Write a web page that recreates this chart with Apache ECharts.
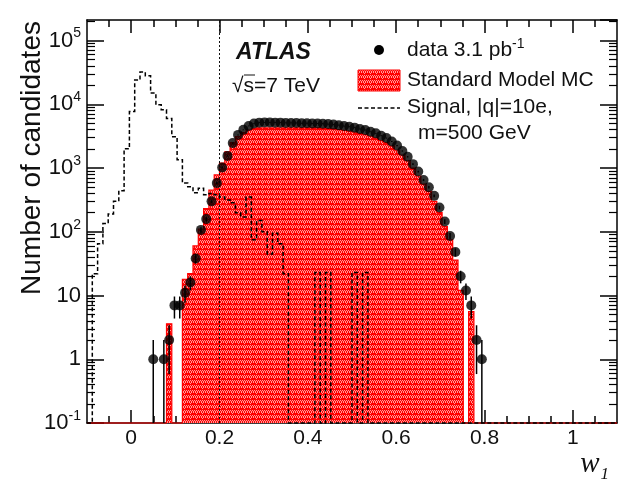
<!DOCTYPE html>
<html><head><meta charset="utf-8">
<script src="https://cdn.jsdelivr.net/npm/echarts@6/dist/echarts.min.js"></script>
<style>html,body{margin:0;padding:0;background:#fff}#c{width:625px;height:483px}</style>
</head><body><div id="c"></div>
<script>
// ---------------- data ----------------
const BIN_WIDTH = 0.012;
const X_MIN = -0.1, X_MAX = 1.1, Y_MIN = 0.1, Y_MAX = 2.1e5;

const xMajorTicks = [0, 0.2, 0.4, 0.6, 0.8, 1];
const xMinorTicks = [-0.05, 0.05, 0.1, 0.15, 0.25, 0.3, 0.35, 0.45, 0.5, 0.55, 0.65, 0.7, 0.75, 0.85, 0.9, 0.95, 1.05];
const yMinorTicks = [0.2,0.3,0.4,0.5,0.6,0.7,0.8,0.9, 2,3,4,5,6,7,8,9, 20,30,40,50,60,70,80,90,
  200,300,400,500,600,700,800,900, 2000,3000,4000,5000,6000,7000,8000,9000,
  20000,30000,40000,50000,60000,70000,80000,90000, 200000];

// data 3.1 pb^-1 (bin centres, counts)
const dataX = [0.050,0.074,0.086,0.098,0.110,0.122,0.134,0.146,0.158,0.170,0.182,0.194,0.206,0.218,0.230,0.242,0.254,0.266,0.278,0.290,
  0.302,0.314,0.326,0.338,0.350,0.362,0.374,0.386,0.398,0.410,0.422,0.434,0.446,0.458,0.470,0.482,0.494,0.506,0.518,0.530,
  0.542,0.554,0.566,0.578,0.590,0.602,0.614,0.626,0.638,0.650,0.662,0.674,0.686,0.698,0.710,0.722,0.734,0.746,0.758,0.770,0.782,0.794];
const dataY = [1,1,2,7,7,11,16,38,107,158,300,580,1020,1550,2460,3310,3970,4570,5000,5150,
  5200,5200,5150,5150,5100,5100,5100,5050,5050,5000,5000,4950,4900,4800,4700,4550,4450,4300,4100,3950,
  3700,3500,3200,2950,2600,2250,1850,1500,1150,880,650,500,366,240,145,86,48,20,12,7,2,1];

// Standard Model MC
const mcX = [0.086,0.122,0.134,0.146,0.158,0.170,0.182,0.194,0.206,0.218,0.230,0.242,0.254,0.266,0.278,0.290,
  0.302,0.314,0.326,0.338,0.350,0.362,0.374,0.386,0.398,0.410,0.422,0.434,0.446,0.458,0.470,0.482,0.494,0.506,0.518,0.530,
  0.542,0.554,0.566,0.578,0.590,0.602,0.614,0.626,0.638,0.650,0.662,0.674,0.686,0.698,0.710,0.722,0.734,0.746,0.758,0.770];
const mcY = [3.6,18,22,60,110,230,450,780,1200,1800,2500,3100,3600,3950,4150,4250,
  4250,4250,4250,4250,4250,4250,4250,4250,4250,4250,4250,4200,4150,4100,4000,3900,3800,3650,3500,3350,
  3150,2950,2700,2500,2200,1900,1600,1300,1000,750,560,430,300,200,120,75,36,12,0,5.6];

// Signal, |q|=10e, m=500 GeV
const sigX = [-0.082,-0.070,-0.058,-0.046,-0.034,-0.022,-0.010,0.002,0.014,0.026,0.038,0.050,0.062,0.074,0.086,0.098,
  0.110,0.122,0.134,0.146,0.158,0.170,0.182,0.194,0.206,0.218,0.230,0.242,0.254,0.266,0.278,0.290,0.302,0.314,0.326,0.338,0.350,
  0.422,0.446,0.506,0.530];
const sigY = [22,65,135,190,300,440,2000,7700,24000,32000,28000,15000,9800,8200,6000,3100,
  1350,580,510,410,480,380,400,380,350,316,284,198,171,350,75,150,100,45,95,65,22,
  23,23,23,23];

const CUT_X = 0.2;

// ---------------- style helpers ----------------
const FONT = "'Liberation Sans', Arial, Helvetica, sans-serif";
const TXT = '#111';

function makePattern() {
  const c = document.createElement('canvas');
  c.width = 6; c.height = 5;
  const g = c.getContext('2d');
  g.fillStyle = '#ff0000'; g.fillRect(0, 0, 6, 5);
  g.fillStyle = 'rgba(255,255,255,0.6)';
  [[0,0],[2,0],[1,1],[1,2],[4,0],[3,1],[5,1],[3,2],[5,2],[4,3]].forEach(p => g.fillRect(p[0], p[1], 1, 1));
  return { image: c, repeat: 'repeat' };
}
const pattern = makePattern();

function stepPoints(api, centers, values) {
  const pts = [];
  let prevR = X_MIN;
  pts.push(api.coord([X_MIN, Y_MIN]));
  for (let i = 0; i < centers.length; i++) {
    const l = centers[i] - BIN_WIDTH / 2, r = centers[i] + BIN_WIDTH / 2;
    const v = values[i] > Y_MIN ? values[i] : Y_MIN;
    if (l > prevR + 1e-9) { pts.push(api.coord([prevR, Y_MIN])); pts.push(api.coord([l, Y_MIN])); }
    pts.push(api.coord([l, v])); pts.push(api.coord([r, v]));
    prevR = r;
  }
  pts.push(api.coord([prevR, Y_MIN]));
  pts.push(api.coord([X_MAX, Y_MIN]));
  return pts;
}

const chart = echarts.init(document.getElementById('c'), null, { renderer: 'canvas' });

function xAxisDef(pos, major) {
  return {
    type: 'value', position: pos, min: X_MIN, max: X_MAX,
    axisLine: { show: major, onZero: false, lineStyle: { color: '#000', width: 1.5 } },
    axisTick: { show: true, inside: true, length: major ? 13 : 7, customValues: major ? xMajorTicks : xMinorTicks,
      lineStyle: { color: '#000', width: 1.5 } },
    axisLabel: (pos === 'bottom' && major) ? { show: true, customValues: xMajorTicks, fontSize: 21, fontFamily: FONT, color: TXT, margin: 5 } : { show: false },
    splitLine: { show: false },
    name: (pos === 'bottom' && major) ? '{w|w}{s|1}' : '',
    nameLocation: 'end', nameGap: -8,
    nameTextStyle: {
      align: 'right', verticalAlign: 'top', padding: [26, 0, 0, 0],
      rich: {
        w: { fontFamily: "'Liberation Serif', 'Times New Roman', serif", fontStyle: 'italic', fontSize: 29, color: TXT, verticalAlign: 'bottom', lineHeight: 30 },
        s: { fontFamily: "'Liberation Serif', 'Times New Roman', serif", fontStyle: 'italic', fontSize: 17, color: TXT, verticalAlign: 'bottom', lineHeight: 17, padding: [0, 0, -4, 1] }
      }
    }
  };
}
function yAxisDef(pos, major) {
  return {
    type: 'log', logBase: 10, position: pos, min: Y_MIN, max: Y_MAX, splitNumber: 6,
    axisLine: { show: major, onZero: false, lineStyle: { color: '#000', width: 1.5 } },
    axisTick: major ? { show: true, inside: true, length: 17, lineStyle: { color: '#000', width: 1.5 } }
                    : { show: true, inside: true, length: 8, customValues: yMinorTicks, lineStyle: { color: '#000', width: 1.2 } },
    axisLabel: (pos === 'left' && major) ? {
      show: true, margin: 6, showMaxLabel: false,
      formatter: v => {
        const lg = Math.log10(v), e = Math.round(lg);
        if (Math.abs(lg - e) > 1e-3) return '';
        if (e === 0) return '{b|1}';
        if (e === 1) return '{b|10}';
        return '{b|10}{s|' + e + '}';
      },
      rich: {
        b: { fontSize: 22, fontFamily: FONT, color: TXT, lineHeight: 22, verticalAlign: 'bottom' },
        s: { fontSize: 14, fontFamily: FONT, color: TXT, lineHeight: 14, verticalAlign: 'bottom', padding: [0, 0, 11, 0] }
      }
    } : { show: false },
    splitLine: { show: false },
    minorTick: { show: false }
  };
}

const option = {
  animation: false,
  backgroundColor: '#fff',
  grid: { left: 87, right: 8, top: 20, bottom: 60, containLabel: false },
  xAxis: [xAxisDef('bottom', true), xAxisDef('bottom', false), xAxisDef('top', true), xAxisDef('top', false)],
  yAxis: [yAxisDef('left', true), yAxisDef('left', false), yAxisDef('right', true), yAxisDef('right', false)],
  series: [
    {
      name: 'Standard Model MC', type: 'custom', xAxisIndex: 0, yAxisIndex: 0, z: 1,
      data: mcX.map((x, i) => [x, mcY[i]]),
      renderItem: (params, api) => {
        if (params.dataIndex !== 0) return null;
        const pts = stepPoints(api, mcX, mcY);
        return { type: 'group', children: [
          { type: 'polygon', shape: { points: pts }, style: { fill: pattern, stroke: null } },
          { type: 'polyline', shape: { points: pts }, style: { stroke: '#ff0000', lineWidth: 1.2, fill: null } }
        ] };
      }
    },
    {
      name: 'Signal', type: 'custom', xAxisIndex: 0, yAxisIndex: 0, z: 3,
      data: sigX.map((x, i) => [x, sigY[i]]),
      renderItem: (params, api) => {
        if (params.dataIndex !== 0) return null;
        const pts = stepPoints(api, sigX, sigY);
        return { type: 'polyline', shape: { points: pts }, style: { stroke: '#000', lineWidth: 1.5, lineDash: [4, 2.5], fill: null } };
      }
    },
    {
      name: 'cut', type: 'scatter', xAxisIndex: 0, yAxisIndex: 0, z: 4, data: [], symbolSize: 0,
      markLine: {
        silent: true, symbol: 'none', label: { show: false },
        lineStyle: { color: '#111', width: 1, type: [2, 2] },
        data: [{ xAxis: CUT_X }]
      }
    },
    {
      name: 'errors', type: 'custom', xAxisIndex: 0, yAxisIndex: 0, z: 5,
      data: dataX.map((x, i) => [x, dataY[i]]),
      renderItem: (params, api) => {
        const x = api.value(0), v = api.value(1), e = Math.sqrt(v);
        const p1 = api.coord([x, Math.max(v - e, Y_MIN)]), p2 = api.coord([x, v + e]);
        return { type: 'line', shape: { x1: p1[0], y1: p1[1], x2: p2[0], y2: p2[1] }, style: { stroke: '#000', lineWidth: 1.5 } };
      }
    },
    {
      name: 'data 3.1 pb-1', type: 'scatter', xAxisIndex: 0, yAxisIndex: 0, z: 6,
      symbol: 'circle', symbolSize: 10, itemStyle: { color: '#000' },
      data: dataX.map((x, i) => [x, dataY[i]])
    }
  ],
  graphic: [
    { type: 'text', x: 32, y: 158, rotation: Math.PI / 2,
      style: { text: 'Number of candidates', font: "28px " + FONT, fill: TXT, textAlign: 'center', textVerticalAlign: 'middle' } },
    { type: 'text', x: 236, y: 53,
      style: { text: 'ATLAS', font: "italic bold 23px " + FONT, fill: TXT, textVerticalAlign: 'middle' } },
    { type: 'text', x: 232, y: 86,
      style: { text: '√s=7 TeV', font: "21px " + FONT, fill: TXT, textVerticalAlign: 'middle' } },
    { type: 'line', shape: { x1: 244, y1: 75, x2: 255, y2: 75 }, style: { stroke: TXT, lineWidth: 1 } },
    // legend
    { type: 'circle', shape: { cx: 379, cy: 50, r: 5 }, style: { fill: '#000' } },
    { type: 'text', x: 407, y: 50,
      style: { text: '{t|data 3.1 pb}{s|-1}', textVerticalAlign: 'middle',
        rich: { t: { font: "21px " + FONT, fill: TXT, lineHeight: 22, verticalAlign: 'bottom' },
                s: { font: "14px " + FONT, fill: TXT, lineHeight: 14, verticalAlign: 'bottom', padding: [0, 0, 10, 0] } } } },
    { type: 'rect', shape: { x: 358, y: 70, width: 42, height: 21 }, style: { fill: pattern, stroke: '#ff0000', lineWidth: 1 } },
    { type: 'text', x: 407, y: 80,
      style: { text: 'Standard Model MC', font: "21px " + FONT, fill: TXT, textVerticalAlign: 'middle' } },
    { type: 'line', shape: { x1: 358, y1: 108, x2: 400, y2: 108 }, style: { stroke: '#000', lineWidth: 1.5, lineDash: [4, 2.5] } },
    { type: 'text', x: 407, y: 107,
      style: { text: 'Signal, |q|=10e,', font: "21px " + FONT, fill: TXT, textVerticalAlign: 'middle' } },
    { type: 'text', x: 418, y: 133,
      style: { text: 'm=500 GeV', font: "21px " + FONT, fill: TXT, textVerticalAlign: 'middle' } }
  ]
};
chart.setOption(option);
</script>
</body></html>
